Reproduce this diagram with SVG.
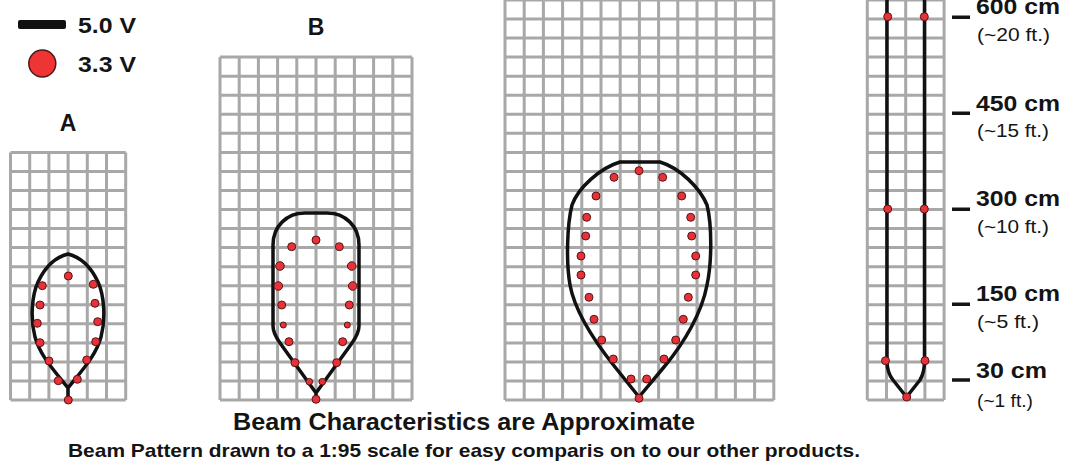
<svg xmlns="http://www.w3.org/2000/svg" width="1078" height="463" viewBox="0 0 1078 463">
<style>
.bg{fill:#ffffff}
.grid{fill:none;stroke:#a8a8a8;stroke-width:3}
.beam{fill:none;stroke:#111111;stroke-width:3.5;stroke-linejoin:round;stroke-linecap:round}
.d{fill:#e8323a;stroke:#5a1414;stroke-width:1}
.t{font-family:"Liberation Sans",Arial,sans-serif;fill:#141414}
.b{font-weight:bold}
.cm{font-size:22px;font-weight:bold}
.ft{font-size:18.5px}
.tick{stroke:#141414;stroke-width:3.5}
</style>
<rect class="bg" x="0" y="0" width="1078" height="463"/>

<g id="legend">
  <rect x="18" y="20" width="48" height="9" rx="2" fill="#111111"/>
  <text class="t b" x="78" y="32.5" font-size="22" textLength="58" lengthAdjust="spacingAndGlyphs">5.0 V</text>
  <circle cx="42.3" cy="63.5" r="13.5" fill="#ee3434" stroke="#4a1a1a" stroke-width="1.5"/>
  <text class="t b" x="78" y="72" font-size="22" textLength="58" lengthAdjust="spacingAndGlyphs">3.3 V</text>
</g>

<g id="panel-A">
  <text class="t b" x="68" y="130.5" font-size="23" text-anchor="middle">A</text>
  <path class="grid" d="M10.5,152.4V400M29.7,152.4V400M48.9,152.4V400M68.1,152.4V400M87.3,152.4V400M106.5,152.4V400M125.7,152.4V400
  M10.5,152.4H125.7M10.5,171.4H125.7M10.5,190.5H125.7M10.5,209.5H125.7M10.5,228.6H125.7M10.5,247.6H125.7M10.5,266.7H125.7M10.5,285.7H125.7M10.5,304.8H125.7M10.5,323.8H125.7M10.5,342.9H125.7M10.5,361.9H125.7M10.5,381H125.7M10.5,400H125.7"/>
  <path class="beam" d="M68,388 C52,368 40,355 35,337 C30,318 32,295 38,282 C45,267 56,257 68,254 C80,257 91,267 98,282 C104,295 106,318 101,337 C96,355 84,368 68,388 Z M68,388 L68,400"/>
  <circle class="d" cx="68.3" cy="276" r="4"/>
  <circle class="d" cx="42.3" cy="285.7" r="4"/><circle class="d" cx="93.3" cy="284.3" r="4"/>
  <circle class="d" cx="40" cy="305" r="4"/><circle class="d" cx="95" cy="303.3" r="4"/>
  <circle class="d" cx="37.3" cy="323.3" r="4"/><circle class="d" cx="97.7" cy="321.7" r="4"/>
  <circle class="d" cx="40" cy="342.7" r="4"/><circle class="d" cx="95.7" cy="341.7" r="4"/>
  <circle class="d" cx="49" cy="361" r="4"/><circle class="d" cx="86.7" cy="360" r="4"/>
  <circle class="d" cx="58.3" cy="380.7" r="4"/><circle class="d" cx="77.3" cy="379.3" r="4"/>
  <circle class="d" cx="68.3" cy="400" r="4"/>
</g>

<g id="panel-B">
  <text class="t b" x="316" y="35" font-size="23" text-anchor="middle">B</text>
  <path class="grid" d="M220,57.1V400M239.2,57.1V400M258.4,57.1V400M277.6,57.1V400M296.8,57.1V400M316,57.1V400M335.2,57.1V400M354.4,57.1V400M373.6,57.1V400M392.8,57.1V400M412,57.1V400
  M220,57.1H412M220,76.2H412M220,95.2H412M220,114.3H412M220,133.3H412M220,152.4H412M220,171.4H412M220,190.5H412M220,209.5H412M220,228.6H412M220,247.6H412M220,266.7H412M220,285.7H412M220,304.8H412M220,323.8H412M220,342.9H412M220,361.9H412M220,381H412M220,400H412"/>
  <path class="beam" d="M316,393 L280,343 C275,336 273,331 273,326 L273,245 C273,226 287,213 305,213 L327,213 C345,213 359,226 359,245 L359,326 C359,331 357,336 352,343 Z M316,393 L316,399"/>
  <circle class="d" cx="316" cy="240" r="4"/>
  <circle class="d" cx="291.7" cy="246.7" r="4"/><circle class="d" cx="339.3" cy="246.7" r="4"/>
  <circle class="d" cx="280" cy="266" r="4.3"/><circle class="d" cx="351.7" cy="266" r="4.3"/>
  <circle class="d" cx="278.3" cy="286" r="4.3"/><circle class="d" cx="352.7" cy="286" r="4.3"/>
  <circle class="d" cx="281.7" cy="305" r="4"/><circle class="d" cx="349.3" cy="305" r="4"/>
  <circle class="d" cx="283.3" cy="325" r="3"/><circle class="d" cx="347.3" cy="325" r="3"/>
  <circle class="d" cx="289" cy="341.7" r="4"/><circle class="d" cx="342.7" cy="341.7" r="4"/>
  <circle class="d" cx="295" cy="362.7" r="4"/><circle class="d" cx="336.7" cy="362.7" r="4"/>
  <circle class="d" cx="309.3" cy="381.7" r="3.3"/><circle class="d" cx="322.3" cy="381.7" r="3.3"/>
  <circle class="d" cx="316" cy="399.3" r="4"/>
</g>

<g id="panel-C">
  <path class="grid" d="M505,0V400M524.2,0V400M543.4,0V400M562.6,0V400M581.8,0V400M601,0V400M620.2,0V400M639.4,0V400M658.6,0V400M677.8,0V400M697,0V400M716.2,0V400M735.4,0V400M754.6,0V400M773.8,0V400
  M505,0H773.8M505,19H773.8M505,38.1H773.8M505,57.1H773.8M505,76.2H773.8M505,95.2H773.8M505,114.3H773.8M505,133.3H773.8M505,152.4H773.8M505,171.4H773.8M505,190.5H773.8M505,209.5H773.8M505,228.6H773.8M505,247.6H773.8M505,266.7H773.8M505,285.7H773.8M505,304.8H773.8M505,323.8H773.8M505,342.9H773.8M505,361.9H773.8M505,381H773.8M505,400H773.8"/>
  <path class="beam" d="M639,397 L615,367 C595,342 575,312 570,285 C566,262 567,225 572,205 C578,188 600,168 620,162 L660,162 C680,168 700,188 707,205 C712,225 712,262 707,285 C702,312 685,342 664,367 Z"/>
  <circle class="d" cx="639" cy="170.7" r="4"/>
  <circle class="d" cx="614" cy="177.3" r="4"/><circle class="d" cx="662.7" cy="177.3" r="4"/>
  <circle class="d" cx="596" cy="196" r="4"/><circle class="d" cx="681.7" cy="196" r="4"/>
  <circle class="d" cx="586.7" cy="217.3" r="4"/><circle class="d" cx="690.7" cy="217.3" r="4"/>
  <circle class="d" cx="585.7" cy="236" r="4"/><circle class="d" cx="691.7" cy="236" r="4"/>
  <circle class="d" cx="581" cy="256" r="4"/><circle class="d" cx="695.7" cy="256" r="4"/>
  <circle class="d" cx="581" cy="275" r="4"/><circle class="d" cx="695.7" cy="275" r="4"/>
  <circle class="d" cx="589" cy="297.3" r="4"/><circle class="d" cx="688.3" cy="297.3" r="4"/>
  <circle class="d" cx="594" cy="319.3" r="4"/><circle class="d" cx="683.3" cy="319.3" r="4"/>
  <circle class="d" cx="601.7" cy="340" r="4"/><circle class="d" cx="675.7" cy="340" r="4"/>
  <circle class="d" cx="613.3" cy="359" r="4"/><circle class="d" cx="664" cy="359" r="4"/>
  <circle class="d" cx="631" cy="379" r="4"/><circle class="d" cx="646.7" cy="379" r="4"/>
  <circle class="d" cx="639" cy="398.3" r="4"/>
</g>

<g id="panel-D">
  <path class="grid" d="M867.3,0V400M886.5,0V400M905.7,0V400M924.9,0V400M944.1,0V400
  M867.3,0H944.1M867.3,19H944.1M867.3,38.1H944.1M867.3,57.1H944.1M867.3,76.2H944.1M867.3,95.2H944.1M867.3,114.3H944.1M867.3,133.3H944.1M867.3,152.4H944.1M867.3,171.4H944.1M867.3,190.5H944.1M867.3,209.5H944.1M867.3,228.6H944.1M867.3,247.6H944.1M867.3,266.7H944.1M867.3,285.7H944.1M867.3,304.8H944.1M867.3,323.8H944.1M867.3,342.9H944.1M867.3,361.9H944.1M867.3,381H944.1M867.3,400H944.1"/>
  <path class="beam" d="M887,-2 L887,361 C887,369 889,375 893,380 L906.5,397 L920,380 C923,375 924.5,369 924.5,361 L924.5,-2"/>
  <circle class="d" cx="887.7" cy="16.7" r="4"/><circle class="d" cx="924.3" cy="16.7" r="4"/>
  <circle class="d" cx="887.7" cy="209" r="4"/><circle class="d" cx="924.3" cy="209" r="4"/>
  <circle class="d" cx="885.5" cy="360.7" r="4"/><circle class="d" cx="925" cy="360.7" r="4"/>
  <circle class="d" cx="906.7" cy="397" r="4"/>
</g>

<g id="scale">
  <path class="tick" d="M952,17.3H970M952,113.3H970M952,209.3H970M952,304.3H970M952,380H970"/>
  <text class="t cm" x="976" y="14" textLength="84" lengthAdjust="spacingAndGlyphs">600 cm</text>
  <text class="t ft" x="977" y="41" textLength="73" lengthAdjust="spacingAndGlyphs">(~20 ft.)</text>
  <text class="t cm" x="976" y="110.7" textLength="84" lengthAdjust="spacingAndGlyphs">450 cm</text>
  <text class="t ft" x="977" y="137.3" textLength="72" lengthAdjust="spacingAndGlyphs">(~15 ft.)</text>
  <text class="t cm" x="976" y="206" textLength="84" lengthAdjust="spacingAndGlyphs">300 cm</text>
  <text class="t ft" x="977" y="233.3" textLength="72" lengthAdjust="spacingAndGlyphs">(~10 ft.)</text>
  <text class="t cm" x="976" y="300.7" textLength="84" lengthAdjust="spacingAndGlyphs">150 cm</text>
  <text class="t ft" x="977" y="328.3" textLength="62" lengthAdjust="spacingAndGlyphs">(~5 ft.)</text>
  <text class="t cm" x="976" y="378.3" textLength="71" lengthAdjust="spacingAndGlyphs">30 cm</text>
  <text class="t ft" x="977" y="406.7" textLength="56" lengthAdjust="spacingAndGlyphs">(~1 ft.)</text>
</g>

<g id="caption">
  <text class="t b" x="233" y="430" font-size="24" textLength="462" lengthAdjust="spacingAndGlyphs">Beam Characteristics are Approximate</text>
  <text class="t b" x="68" y="457" font-size="19" textLength="792" lengthAdjust="spacingAndGlyphs">Beam Pattern drawn to a 1:95 scale for easy comparis on to our other products.</text>
</g>
</svg>
